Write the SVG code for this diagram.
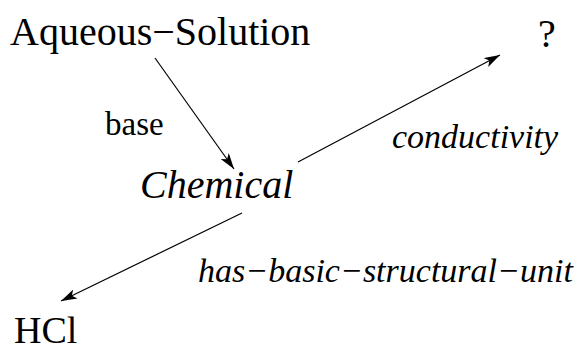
<svg xmlns="http://www.w3.org/2000/svg" width="579" height="350" viewBox="0 0 579 350">
<style>
text{font-family:"Liberation Serif","Times New Roman",serif;fill:#000}
.n{font-size:40px}
.i{font-style:italic}
.l{font-size:34px}
line{stroke:#000;stroke-width:1.2}
</style>
<defs>
<marker id="ah" viewBox="0 0 16 10" refX="16" refY="5" markerWidth="16" markerHeight="10" markerUnits="userSpaceOnUse" orient="auto">
<path d="M0,0 L16,5 L0,10 L4,5 Z" fill="#000"/>
</marker>
</defs>
<rect width="579" height="350" fill="#fff"/>
<g id="connectors">
<line x1="155" y1="58" x2="234" y2="169" marker-end="url(#ah)"/>
<line x1="298" y1="162" x2="500" y2="55" marker-end="url(#ah)"/>
<line x1="242" y1="213" x2="61" y2="301" marker-end="url(#ah)"/>
<text class="l" x="105" y="135" style="font-size:33px">base</text>
<text class="l i" x="392" y="148">conductivity</text>
<text class="l i" x="198" y="282">has−basic−structural−unit</text>
</g>
<g id="aqueous-solution"><text class="n" x="10" y="45">Aqueous−Solution</text></g>
<g id="unknown"><text class="n" x="538" y="47">?</text></g>
<g id="chemical"><text class="n i" x="140" y="198">Chemical</text></g>
<g id="hcl"><text class="n" x="14" y="343" style="font-size:38px">HCl</text></g>
</svg>
